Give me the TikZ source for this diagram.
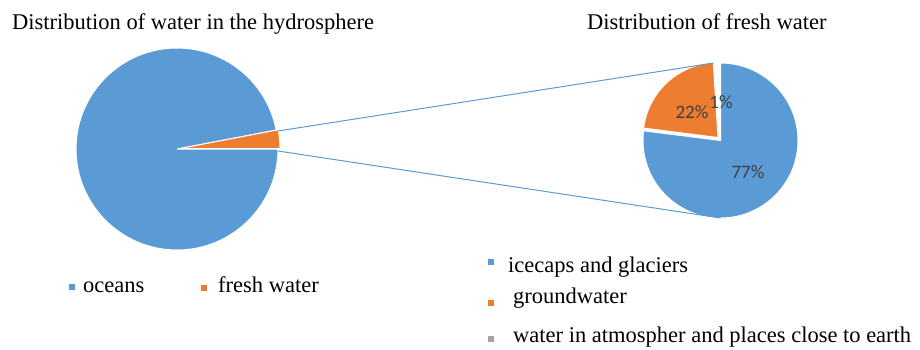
\documentclass[tikz,border=0pt]{standalone}
\usepackage{fontspec}
\setmainfont{Liberation Serif}
\newfontfamily\pctfont{Carlito}
\usepackage{xcolor}
\usepackage{tikz}
\definecolor{iceblue}{HTML}{5B9BD5}
\definecolor{groundorange}{HTML}{ED7D31}
\definecolor{airgray}{HTML}{A5A5A5}
\definecolor{pctgray}{HTML}{404040}

\begin{document}
\begin{tikzpicture}[x=1pt,y=-1pt,
    slice/.style={draw=white,line width=1pt},
    link/.style={draw=iceblue,line width=1pt},
    txt/.style={inner sep=0pt,anchor=base west,font=\fontsize{22.5}{27}\selectfont},
    pct/.style={inner sep=0pt,text=pctgray,font=\pctfont\fontsize{19}{23}\selectfont},
    key/.style={minimum size=6pt,inner sep=0pt}]
\useasboundingbox (0,0) rectangle (920,349);

% titles
\node[txt] (T1) at (12,29) {Distribution of water in the hydrosphere};
\node[txt] (T2) at (587,29) {Distribution of fresh water};

% hydrosphere pie
\filldraw[slice,fill=iceblue] (177,149) -- +(0:101) arc[start angle=0,end angle=349.2,radius=101] -- cycle;
\filldraw[slice,fill=groundorange] (180,148.5) -- +(0:100) arc[start angle=0,end angle=-10.8,radius=100] -- cycle;

% fresh water pie
\filldraw[slice,fill=iceblue] (720.5,140.5) -- +(-90:77.5) arc[start angle=-90,end angle=187.2,radius=77.5] -- cycle;
\filldraw[slice,fill=groundorange] (718,137.5) -- +(-93.6:75) arc[start angle=-93.6,end angle=-172.8,radius=75] -- cycle;

\node[pct] (P77) at (748,172) {77\%};
\node[pct] (P22) at (692,112) {22\%};
\node[pct] (P1) at (721,102) {1\%};

% connectors
\coordinate (L1) at (278,131);
\coordinate (L2) at (278,151);
\coordinate (R1) at (713.5,63);
\coordinate (R2) at (720.5,218);
\draw[link] (L1) -- (R1);
\draw[link] (L2) -- (R2);

% legends
\node[key,fill=iceblue] (K1) at (72,287) {};
\node[txt] (N1) at (83,292) {oceans};
\node[key,fill=groundorange] (K2) at (203.5,288) {};
\node[txt] (N2) at (218,292) {fresh water};

\node[key,fill=iceblue] (K3) at (491,262) {};
\node[txt] (N3) at (508,272) {icecaps and glaciers};
\node[key,fill=groundorange] (K4) at (491,302.5) {};
\node[txt] (N4) at (513,303) {groundwater};
\node[key,fill=airgray] (K5) at (491,339) {};
\node[txt] (N5) at (513,342) {water in atmospher and places close to earth};
\end{tikzpicture}
\end{document}
